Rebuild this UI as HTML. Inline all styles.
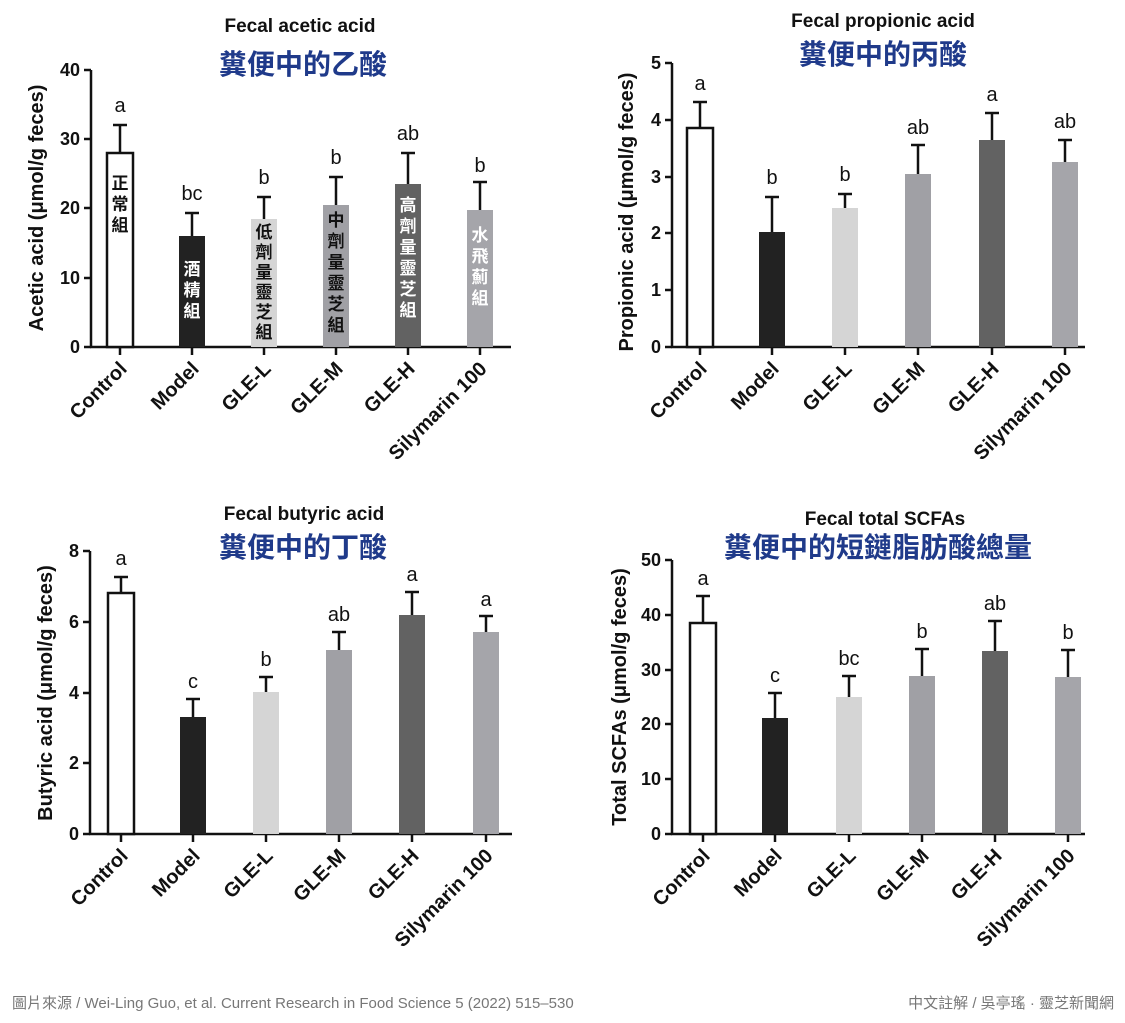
<!DOCTYPE html>
<html><head><meta charset="utf-8"><style>
body{margin:0;background:#fff;width:1125px;height:1023px;overflow:hidden}
svg{display:block}
.t{font-family:"Liberation Sans",Arial,sans-serif;font-weight:bold;font-size:19px;fill:#111}
.cn{font-family:"Liberation Sans","Noto Sans CJK TC",sans-serif;font-weight:bold;font-size:28px;fill:#1f3a8a}
.tk{font-family:"Liberation Sans",sans-serif;font-weight:bold;font-size:18px;fill:#111}
.cat{font-family:"Liberation Sans",sans-serif;font-weight:bold;font-size:20px;fill:#111}
.yt{font-family:"Liberation Sans",sans-serif;font-weight:bold;font-size:20px;fill:#111}
.sig{font-family:"Liberation Sans",sans-serif;font-size:20px;fill:#111}
.in{font-family:"Noto Sans CJK TC",sans-serif;font-weight:bold;font-size:17px}
.ft{font-family:"Liberation Sans","Noto Sans CJK TC",sans-serif;font-size:15px;fill:#777}
line{stroke:#111}
rect{stroke:none}
rect.o{stroke:#111}
</style></head><body>
<svg width="1125" height="1023" viewBox="0 0 1125 1023" xmlns="http://www.w3.org/2000/svg">
<g stroke-width="2.5" fill="none">
<line x1="91" y1="70" x2="91" y2="348"/><line x1="90" y1="347" x2="511" y2="347"/>
<line x1="84" y1="70" x2="91" y2="70"/><line x1="84" y1="139" x2="91" y2="139"/><line x1="84" y1="208" x2="91" y2="208"/><line x1="84" y1="278" x2="91" y2="278"/><line x1="84" y1="347" x2="91" y2="347"/>
<line x1="672" y1="63" x2="672" y2="348"/><line x1="671" y1="347" x2="1085" y2="347"/>
<line x1="665" y1="63" x2="672" y2="63"/><line x1="665" y1="120" x2="672" y2="120"/><line x1="665" y1="177" x2="672" y2="177"/><line x1="665" y1="233" x2="672" y2="233"/><line x1="665" y1="290" x2="672" y2="290"/><line x1="665" y1="347" x2="672" y2="347"/>
<line x1="90" y1="551" x2="90" y2="835"/><line x1="89" y1="834" x2="512" y2="834"/>
<line x1="83" y1="551" x2="90" y2="551"/><line x1="83" y1="622" x2="90" y2="622"/><line x1="83" y1="693" x2="90" y2="693"/><line x1="83" y1="763" x2="90" y2="763"/><line x1="83" y1="834" x2="90" y2="834"/>
<line x1="672" y1="560" x2="672" y2="835"/><line x1="671" y1="834" x2="1085" y2="834"/>
<line x1="665" y1="560" x2="672" y2="560"/><line x1="665" y1="615" x2="672" y2="615"/><line x1="665" y1="670" x2="672" y2="670"/><line x1="665" y1="724" x2="672" y2="724"/><line x1="665" y1="779" x2="672" y2="779"/><line x1="665" y1="834" x2="672" y2="834"/>
</g>

<g stroke-width="2.5">
<line x1="120" y1="153" x2="120" y2="125"/><line x1="113" y1="125" x2="127" y2="125"/>
<rect class="o" x="107" y="153" width="26" height="194" fill="#fff"/>
<line x1="192" y1="236" x2="192" y2="213"/><line x1="185" y1="213" x2="199" y2="213"/>
<rect x="179" y="236" width="26" height="111" fill="#222"/>
<line x1="264" y1="219" x2="264" y2="197"/><line x1="257" y1="197" x2="271" y2="197"/>
<rect x="251" y="219" width="26" height="128" fill="#d5d5d5"/>
<line x1="336" y1="205" x2="336" y2="177"/><line x1="329" y1="177" x2="343" y2="177"/>
<rect x="323" y="205" width="26" height="142" fill="#a0a0a5"/>
<line x1="408" y1="184" x2="408" y2="153"/><line x1="401" y1="153" x2="415" y2="153"/>
<rect x="395" y="184" width="26" height="163" fill="#626262"/>
<line x1="480" y1="210" x2="480" y2="182"/><line x1="473" y1="182" x2="487" y2="182"/>
<rect x="467" y="210" width="26" height="137" fill="#a5a5aa"/>
<line x1="120" y1="347" x2="120" y2="355"/><line x1="192" y1="347" x2="192" y2="355"/><line x1="264" y1="347" x2="264" y2="355"/><line x1="336" y1="347" x2="336" y2="355"/><line x1="408" y1="347" x2="408" y2="355"/><line x1="480" y1="347" x2="480" y2="355"/>
</g>
<g stroke-width="2.5">
<line x1="700" y1="128" x2="700" y2="102"/><line x1="693" y1="102" x2="707" y2="102"/>
<rect class="o" x="687" y="128" width="26" height="219" fill="#fff"/>
<line x1="772" y1="232" x2="772" y2="197"/><line x1="765" y1="197" x2="779" y2="197"/>
<rect x="759" y="232" width="26" height="115" fill="#222"/>
<line x1="845" y1="208" x2="845" y2="194"/><line x1="838" y1="194" x2="852" y2="194"/>
<rect x="832" y="208" width="26" height="139" fill="#d5d5d5"/>
<line x1="918" y1="174" x2="918" y2="145"/><line x1="911" y1="145" x2="925" y2="145"/>
<rect x="905" y="174" width="26" height="173" fill="#a0a0a5"/>
<line x1="992" y1="140" x2="992" y2="113"/><line x1="985" y1="113" x2="999" y2="113"/>
<rect x="979" y="140" width="26" height="207" fill="#626262"/>
<line x1="1065" y1="162" x2="1065" y2="140"/><line x1="1058" y1="140" x2="1072" y2="140"/>
<rect x="1052" y="162" width="26" height="185" fill="#a5a5aa"/>
<line x1="700" y1="347" x2="700" y2="355"/><line x1="772" y1="347" x2="772" y2="355"/><line x1="845" y1="347" x2="845" y2="355"/><line x1="918" y1="347" x2="918" y2="355"/><line x1="992" y1="347" x2="992" y2="355"/><line x1="1065" y1="347" x2="1065" y2="355"/>
</g>
<g stroke-width="2.5">
<line x1="121" y1="593" x2="121" y2="577"/><line x1="114" y1="577" x2="128" y2="577"/>
<rect class="o" x="108" y="593" width="26" height="241" fill="#fff"/>
<line x1="193" y1="717" x2="193" y2="699"/><line x1="186" y1="699" x2="200" y2="699"/>
<rect x="180" y="717" width="26" height="117" fill="#222"/>
<line x1="266" y1="692" x2="266" y2="677"/><line x1="259" y1="677" x2="273" y2="677"/>
<rect x="253" y="692" width="26" height="142" fill="#d5d5d5"/>
<line x1="339" y1="650" x2="339" y2="632"/><line x1="332" y1="632" x2="346" y2="632"/>
<rect x="326" y="650" width="26" height="184" fill="#a0a0a5"/>
<line x1="412" y1="615" x2="412" y2="592"/><line x1="405" y1="592" x2="419" y2="592"/>
<rect x="399" y="615" width="26" height="219" fill="#626262"/>
<line x1="486" y1="632" x2="486" y2="616"/><line x1="479" y1="616" x2="493" y2="616"/>
<rect x="473" y="632" width="26" height="202" fill="#a5a5aa"/>
<line x1="121" y1="834" x2="121" y2="842"/><line x1="193" y1="834" x2="193" y2="842"/><line x1="266" y1="834" x2="266" y2="842"/><line x1="339" y1="834" x2="339" y2="842"/><line x1="412" y1="834" x2="412" y2="842"/><line x1="486" y1="834" x2="486" y2="842"/>
</g>
<g stroke-width="2.5">
<line x1="703" y1="623" x2="703" y2="596"/><line x1="696" y1="596" x2="710" y2="596"/>
<rect class="o" x="690" y="623" width="26" height="211" fill="#fff"/>
<line x1="775" y1="718" x2="775" y2="693"/><line x1="768" y1="693" x2="782" y2="693"/>
<rect x="762" y="718" width="26" height="116" fill="#222"/>
<line x1="849" y1="697" x2="849" y2="676"/><line x1="842" y1="676" x2="856" y2="676"/>
<rect x="836" y="697" width="26" height="137" fill="#d5d5d5"/>
<line x1="922" y1="676" x2="922" y2="649"/><line x1="915" y1="649" x2="929" y2="649"/>
<rect x="909" y="676" width="26" height="158" fill="#a0a0a5"/>
<line x1="995" y1="651" x2="995" y2="621"/><line x1="988" y1="621" x2="1002" y2="621"/>
<rect x="982" y="651" width="26" height="183" fill="#626262"/>
<line x1="1068" y1="677" x2="1068" y2="650"/><line x1="1061" y1="650" x2="1075" y2="650"/>
<rect x="1055" y="677" width="26" height="157" fill="#a5a5aa"/>
<line x1="703" y1="834" x2="703" y2="842"/><line x1="775" y1="834" x2="775" y2="842"/><line x1="849" y1="834" x2="849" y2="842"/><line x1="922" y1="834" x2="922" y2="842"/><line x1="995" y1="834" x2="995" y2="842"/><line x1="1068" y1="834" x2="1068" y2="842"/>
</g>

<text class="t" x="300" y="32" text-anchor="middle">Fecal acetic acid</text>
<text class="cn" x="303" y="74" text-anchor="middle">糞便中的乙酸</text>
<text class="t" x="883" y="27" text-anchor="middle">Fecal propionic acid</text>
<text class="cn" x="883" y="64" text-anchor="middle">糞便中的丙酸</text>
<text class="t" x="304" y="520" text-anchor="middle">Fecal butyric acid</text>
<text class="cn" x="303" y="557" text-anchor="middle">糞便中的丁酸</text>
<text class="t" x="885" y="525" text-anchor="middle">Fecal total SCFAs</text>
<text class="cn" x="878" y="557" text-anchor="middle">糞便中的短鏈脂肪酸總量</text>

<g class="tk" text-anchor="end">
<text x="80" y="76">40</text><text x="80" y="145">30</text><text x="80" y="214">20</text><text x="80" y="284">10</text><text x="80" y="353">0</text>
<text x="661" y="69">5</text><text x="661" y="126">4</text><text x="661" y="183">3</text><text x="661" y="239">2</text><text x="661" y="296">1</text><text x="661" y="353">0</text>
<text x="79" y="557">8</text><text x="79" y="628">6</text><text x="79" y="699">4</text><text x="79" y="769">2</text><text x="79" y="840">0</text>
<text x="661" y="566">50</text><text x="661" y="621">40</text><text x="661" y="676">30</text><text x="661" y="730">20</text><text x="661" y="785">10</text><text x="661" y="840">0</text>
</g>

<text class="yt" transform="translate(43,208) rotate(-90)" text-anchor="middle">Acetic acid (μmol/g feces)</text>
<text class="yt" transform="translate(633,212) rotate(-90)" text-anchor="middle">Propionic acid (μmol/g feces)</text>
<text class="yt" transform="translate(52,693) rotate(-90)" text-anchor="middle">Butyric acid (μmol/g feces)</text>
<text class="yt" transform="translate(626,697) rotate(-90)" text-anchor="middle">Total SCFAs (μmol/g feces)</text>

<g class="sig" text-anchor="middle">
<text x="120" y="112">a</text><text x="192" y="200">bc</text><text x="264" y="184">b</text><text x="336" y="164">b</text><text x="408" y="140">ab</text><text x="480" y="172">b</text>
<text x="700" y="90">a</text><text x="772" y="184">b</text><text x="845" y="181">b</text><text x="918" y="134">ab</text><text x="992" y="101">a</text><text x="1065" y="128">ab</text>
<text x="121" y="565">a</text><text x="193" y="688">c</text><text x="266" y="666">b</text><text x="339" y="621">ab</text><text x="412" y="581">a</text><text x="486" y="606">a</text>
<text x="703" y="585">a</text><text x="775" y="682">c</text><text x="849" y="665">bc</text><text x="922" y="638">b</text><text x="995" y="610">ab</text><text x="1068" y="639">b</text>
</g>

<g class="cat" text-anchor="end">
<text transform="translate(128,370) rotate(-45)">Control</text>
<text transform="translate(200,370) rotate(-45)">Model</text>
<text transform="translate(272,370) rotate(-45)">GLE-L</text>
<text transform="translate(344,370) rotate(-45)">GLE-M</text>
<text transform="translate(416,370) rotate(-45)">GLE-H</text>
<text transform="translate(488,370) rotate(-45)">Silymarin 100</text>
<text transform="translate(708,370) rotate(-45)">Control</text>
<text transform="translate(780,370) rotate(-45)">Model</text>
<text transform="translate(853,370) rotate(-45)">GLE-L</text>
<text transform="translate(926,370) rotate(-45)">GLE-M</text>
<text transform="translate(1000,370) rotate(-45)">GLE-H</text>
<text transform="translate(1073,370) rotate(-45)">Silymarin 100</text>
<text transform="translate(129,857) rotate(-45)">Control</text>
<text transform="translate(201,857) rotate(-45)">Model</text>
<text transform="translate(274,857) rotate(-45)">GLE-L</text>
<text transform="translate(347,857) rotate(-45)">GLE-M</text>
<text transform="translate(420,857) rotate(-45)">GLE-H</text>
<text transform="translate(494,857) rotate(-45)">Silymarin 100</text>
<text transform="translate(711,857) rotate(-45)">Control</text>
<text transform="translate(783,857) rotate(-45)">Model</text>
<text transform="translate(857,857) rotate(-45)">GLE-L</text>
<text transform="translate(930,857) rotate(-45)">GLE-M</text>
<text transform="translate(1003,857) rotate(-45)">GLE-H</text>
<text transform="translate(1076,857) rotate(-45)">Silymarin 100</text>
</g>

<g class="in" text-anchor="middle">
<text x="120" y="189" fill="#111">正</text><text x="120" y="210" fill="#111">常</text><text x="120" y="231" fill="#111">組</text>
<text x="192" y="275" fill="#fff">酒</text><text x="192" y="296" fill="#fff">精</text><text x="192" y="317" fill="#fff">組</text>
<text x="264" y="238" fill="#111">低</text><text x="264" y="258" fill="#111">劑</text><text x="264" y="278" fill="#111">量</text><text x="264" y="298" fill="#111">靈</text><text x="264" y="318" fill="#111">芝</text><text x="264" y="338" fill="#111">組</text>
<text x="336" y="226" fill="#111">中</text><text x="336" y="247" fill="#111">劑</text><text x="336" y="268" fill="#111">量</text><text x="336" y="289" fill="#111">靈</text><text x="336" y="310" fill="#111">芝</text><text x="336" y="331" fill="#111">組</text>
<text x="408" y="211" fill="#fff">高</text><text x="408" y="232" fill="#fff">劑</text><text x="408" y="253" fill="#fff">量</text><text x="408" y="274" fill="#fff">靈</text><text x="408" y="295" fill="#fff">芝</text><text x="408" y="316" fill="#fff">組</text>
<text x="480" y="241" fill="#fff">水</text><text x="480" y="262" fill="#fff">飛</text><text x="480" y="283" fill="#fff">薊</text><text x="480" y="304" fill="#fff">組</text>
</g>

<text class="ft" x="12" y="1008">圖片來源 / Wei-Ling Guo, et al. Current Research in Food Science 5 (2022) 515–530</text>
<text class="ft" x="1114" y="1008" text-anchor="end">中文註解 / 吳亭瑤 · 靈芝新聞網</text>
</svg>
</body></html>
